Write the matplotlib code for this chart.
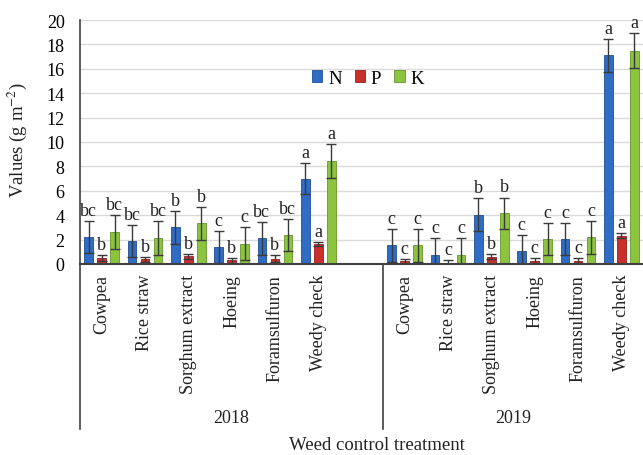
import matplotlib
matplotlib.use("Agg")
import matplotlib.pyplot as plt
import matplotlib.transforms as mtransforms
from matplotlib.patches import Patch
import numpy as np

plt.rcParams["font.family"] = ["Liberation Serif", "DejaVu Serif"]
plt.rcParams["mathtext.fontset"] = "stix"

# treatments per year (an empty slot separates the two years)
treatments = ["Cowpea", "Rice straw", "Sorghum extract", "Hoeing", "Foramsulfuron", "Weedy check"]
years = ["2018", "2019"]

# means (g m-2), 2018 then 2019
n_vals = [2.2, 1.9, 3.0, 1.4, 2.1, 7.0, 1.55, 0.75, 4.05, 1.05, 2.05, 17.1]
p_vals = [0.5, 0.4, 0.65, 0.3, 0.45, 1.65, 0.22, 0.12, 0.6, 0.27, 0.27, 2.32]
k_vals = [2.6, 2.1, 3.35, 1.65, 2.4, 8.45, 1.55, 0.75, 4.15, 2.05, 2.2, 17.5]

n_err = [1.3, 1.3, 1.35, 1.3, 1.35, 1.3, 1.35, 1.35, 1.35, 1.35, 1.3, 1.35]
p_err = [0.25, 0.2, 0.2, 0.2, 0.25, 0.15, 0.2, 0.2, 0.2, 0.2, 0.2, 0.2]
k_err = [1.4, 1.4, 1.35, 1.35, 1.3, 1.4, 1.35, 1.35, 1.3, 1.3, 1.35, 1.4]

n_let = ["bc", "bc", "b", "c", "bc", "a", "c", "c", "b", "c", "c", "a"]
p_let = ["b", "b", "b", "b", "b", "a", "c", "c", "b", "c", "c", "a"]
k_let = ["bc", "bc", "b", "c", "bc", "a", "c", "c", "b", "c", "c", "a"]

series = [
    ("N", n_vals, n_err, n_let, "#2f6cc3", "#1f4f96"),
    ("P", p_vals, p_err, p_let, "#c9302c", "#962020"),
    ("K", k_vals, k_err, k_let, "#8cc33f", "#65952a"),
]

# slot positions: 0..5 for 2018, 7..12 for 2019
pos = np.array(list(range(0, 6)) + list(range(7, 13)), dtype=float)

fig = plt.figure(figsize=(6.43, 4.56), dpi=100)
ax = fig.add_axes([80 / 643, (456 - 265) / 456, 563 / 643, 244 / 456])

offsets = [-0.3, 0.0, 0.3]
for (name, vals, errs, lets, fc, ec), off in zip(series, offsets):
    x = pos + off
    ax.bar(x, vals, width=0.2, color=fc, edgecolor=ec, linewidth=0.6, zorder=3,
           yerr=errs, error_kw=dict(ecolor="#3a3a3a", elinewidth=1, capsize=3.5, capthick=1, zorder=4))
    for xi, v, e, l in zip(x, vals, errs, lets):
        ax.annotate(l, (xi, v + e), xytext=(0, 1.5), textcoords="offset points",
                    ha="center", va="bottom", fontsize=13, color="#222222", zorder=5)

ax.set_xlim(-0.5, 12.5)
ax.set_ylim(0, 20)
ax.set_yticks(range(0, 21, 2))
ax.tick_params(axis="y", length=0, pad=11, labelsize=13)
ax.set_xticks([])
ax.grid(axis="y", color="#dadada", linewidth=1, zorder=0)
for s in ["top", "right"]:
    ax.spines[s].set_visible(False)
ax.spines["bottom"].set_color("#404040")
ax.spines["bottom"].set_linewidth(1.5)
ax.spines["bottom"].set_zorder(6)
ax.spines["left"].set_color("#404040")
ax.spines["left"].set_linewidth(1.2)

# multi-level category axis
trans = mtransforms.blended_transform_factory(ax.transData, ax.transAxes)
line_bottom = -(430 - 265) / 244
for xb in [-0.5, 6.5]:
    ax.plot([xb, xb], [0, line_bottom], transform=trans, color="#404040",
            linewidth=1.2, clip_on=False)
for xi, lab in zip(pos, treatments * 2):
    ax.text(xi, -10 / 244, lab, transform=trans, rotation=90, ha="center", va="top",
            fontsize=13, color="#222222")
year_y = -(419 - 265) / 244
for xc, yr in zip([3.0, 9.5], years):
    ax.text(xc, year_y, yr, transform=trans, ha="center", va="center",
            fontsize=13, color="#222222")

fig.text(17 / 643, (456 - 140) / 456, "Values (g m$^{-2}$)", rotation=90,
         ha="center", va="center", fontsize=13.5, color="#222222")
fig.text(377 / 643, (456 - 446) / 456, "Weed control treatment", ha="center",
         va="center", fontsize=13.5, color="#222222")

handles = [Patch(facecolor=fc, edgecolor=ec, linewidth=0.6) for _, _, _, _, fc, ec in series]
ax.legend(handles, [s[0] for s in series], ncol=3, loc="center",
          bbox_to_anchor=((368 - 80) / 563, (265 - 79) / 244), frameon=False,
          handlelength=0.55, handleheight=0.55, handletextpad=0.3, columnspacing=0.7,
          fontsize=13.5)

fig.savefig("out.png", dpi=100)
